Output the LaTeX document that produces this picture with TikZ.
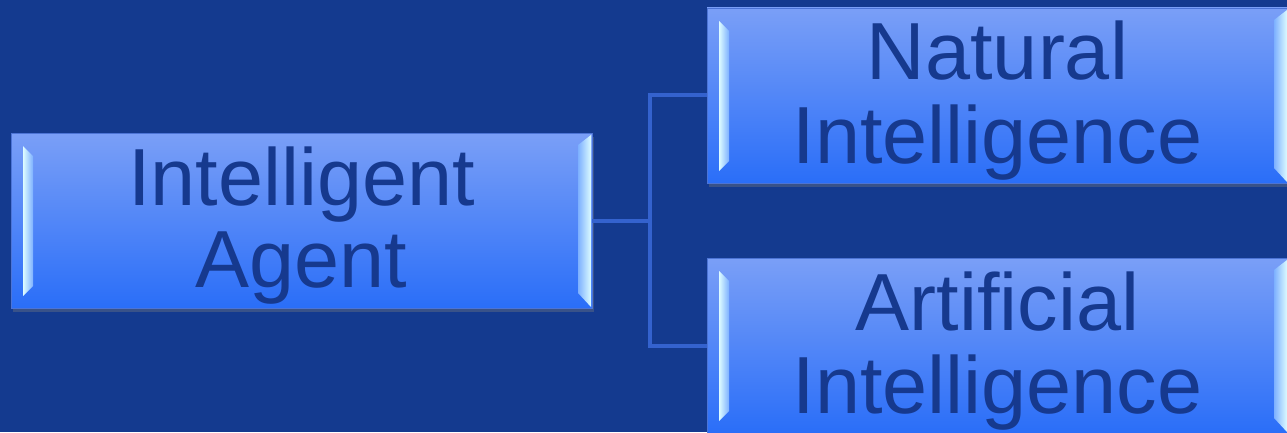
\documentclass[tikz,border=0pt]{standalone}
\usepackage{fontspec}
\setmainfont{Liberation Sans}
\usetikzlibrary{calc,shadows}
\definecolor{bg}{HTML}{143A8F}
\definecolor{boxtop}{HTML}{7A9FF7}
\definecolor{boxbot}{HTML}{2A6EF8}
\definecolor{txt}{HTML}{16398E}
\definecolor{conn}{HTML}{3462CE}
\definecolor{edge}{HTML}{4C74D6}
\definecolor{hilite}{HTML}{DDFCFF}
\definecolor{midlite}{HTML}{7DB0FF}
\newcommand{\twolines}[2]{\raisebox{15.5pt}[0pt][0pt]{\begin{tabular}[t]{@{}c@{}}#1\\#2\end{tabular}}}
\tikzset{
  boxnode/.style={draw=edge, line width=0.8pt, top color=boxtop, bottom color=boxbot,
    minimum width=581pt, minimum height=175pt, inner sep=0pt, align=center,
    text=txt, font=\fontsize{81}{82}\selectfont,
    drop shadow={opacity=0.35, shadow xshift=2pt, shadow yshift=-4pt},
    path picture={
      \path (path picture bounding box.north west) coordinate (pnw)
            (path picture bounding box.south east) coordinate (pse);
      \shade[left color=hilite, right color=midlite]
        ($(pnw)+(12,-13)$) -- ($(pnw)+(22,-23)$) -- ($(pnw|-pse)+(22,22)$) -- ($(pnw|-pse)+(12,12)$) -- cycle;
      \shade[left color=midlite, right color=hilite]
        ($(pse|-pnw)+(-1,-2)$) -- ($(pse|-pnw)+(-14,-12)$) -- ($(pse)+(-14,15)$) -- ($(pse)+(-1,1)$) -- cycle;
    }},
  connline/.style={draw=conn, line width=4pt}
}
\begin{document}
\begin{tikzpicture}[x=1pt,y=1pt]
\useasboundingbox (0,0) rectangle (1287,432);
\clip (0,0) rectangle (1287,432);
\fill[bg] (0,0) rectangle (1287,432);
\coordinate (j) at (650,211.5);
\node[boxnode] (ia) at (301.5,211.5) {\twolines{Intelligent}{Agent}};
\node[boxnode] (ni) at (997.5,336.5) {\twolines{Natural}{Intelligence}};
\node[boxnode] (ai) at (997.5,86.5) {\twolines{Artificial}{Intelligence}};
\draw[connline] (ia.east) -- (j);
\draw[connline] (j) |- (ni.west);
\draw[connline] (j) |- (ai.west);
\end{tikzpicture}
\end{document}
